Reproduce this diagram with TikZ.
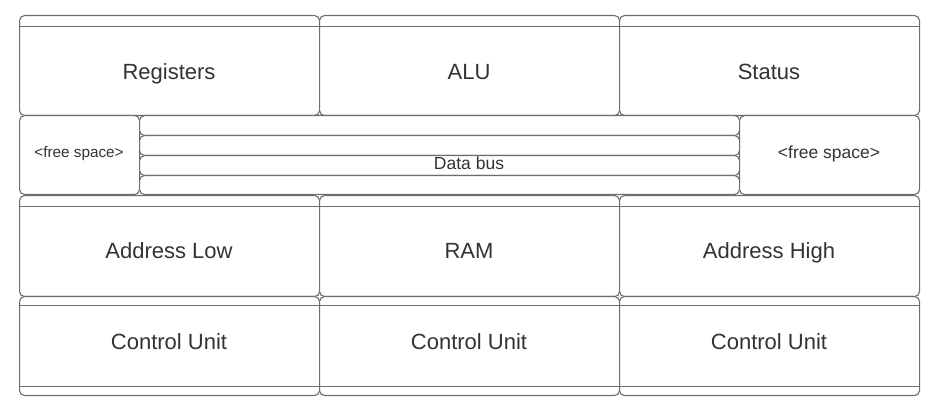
\documentclass[tikz,border=0pt]{standalone}
\usepackage{fontspec}
\setmainfont{Liberation Sans}
\definecolor{ln}{HTML}{6E6E6E}
\definecolor{tx}{HTML}{333333}
\tikzset{
  cell/.style={draw=ln, line width=1.1pt, fill=white, rounded corners=5pt, anchor=north west, inner sep=0pt, minimum width=300pt, minimum height=100pt},
  stripe/.style={draw=ln, line width=1pt},
  big/.style={text=tx, anchor=base, inner sep=0pt, font=\fontsize{22}{26}\selectfont},
  small/.style={text=tx, anchor=base, inner sep=0pt, font=\fontsize{15.3}{18}\selectfont},
  smallr/.style={text=tx, anchor=base, inner sep=0pt, font=\fontsize{17.5}{20}\selectfont},
  bus/.style={text=tx, anchor=base, inner sep=0pt, font=\fontsize{17.5}{20}\selectfont},
}
\begin{document}
\begin{tikzpicture}[x=1pt,y=1pt]
\useasboundingbox (0,0) rectangle (937,-411);
% row 1
\node[cell] (r1a) at (19,-15) {};
\node[cell] (r1b) at (319,-15) {};
\node[cell] (r1c) at (619,-15) {};
\foreach \n in {r1a,r1b,r1c}{\draw[stripe] ([yshift=-12pt]\n.north west) -- ([yshift=-12pt]\n.north east);}
\node[big] (tReg) at (169,-80) {Registers};
\node[big] (tAlu) at (469,-80) {ALU};
\node[big] (tSta) at (769,-80) {Status};
% row 2
\node[cell, minimum width=120pt, minimum height=79pt] (fsl) at (19,-115) {};
\node[small] (tfsl) at (79,-158) {<free space>};
\node[cell, minimum width=600pt, minimum height=20pt] (b1) at (139,-115) {};
\node[cell, minimum width=600pt, minimum height=20pt] (b2) at (139,-135) {};
\node[cell, minimum width=600pt, minimum height=20pt] (b3) at (139,-155) {};
\node[cell, minimum width=600pt, minimum height=19pt] (b4) at (139,-175) {};
\node[bus] (tbus) at (469,-170) {Data bus};
\node[cell, minimum width=180pt, minimum height=79pt] (fsr) at (739,-115) {};
\node[smallr] (tfsr) at (829,-158.5) {<free space>};
% row 3
\node[cell, minimum height=101pt] (r3a) at (19,-195) {};
\node[cell, minimum height=101pt] (r3b) at (319,-195) {};
\node[cell, minimum height=101pt] (r3c) at (619,-195) {};
\foreach \n in {r3a,r3b,r3c}{\draw[stripe] ([yshift=-12pt]\n.north west) -- ([yshift=-12pt]\n.north east);}
\node[big] (tAL) at (169,-259) {Address Low};
\node[big] (tRAM) at (469,-259) {RAM};
\node[big] (tAH) at (769,-259) {Address High};
% row 4
\node[cell, minimum height=99pt] (r4a) at (19,-296) {};
\node[cell, minimum height=99pt] (r4b) at (319,-296) {};
\node[cell, minimum height=99pt] (r4c) at (619,-296) {};
\foreach \n in {r4a,r4b,r4c}{
  \draw[stripe] ([yshift=-10pt]\n.north west) -- ([yshift=-10pt]\n.north east);
  \draw[stripe] ([yshift=10pt]\n.south west) -- ([yshift=10pt]\n.south east);}
\node[big] (tCU1) at (169,-350) {Control Unit};
\node[big] (tCU2) at (469,-350) {Control Unit};
\node[big] (tCU3) at (769,-350) {Control Unit};
\end{tikzpicture}
\end{document}
